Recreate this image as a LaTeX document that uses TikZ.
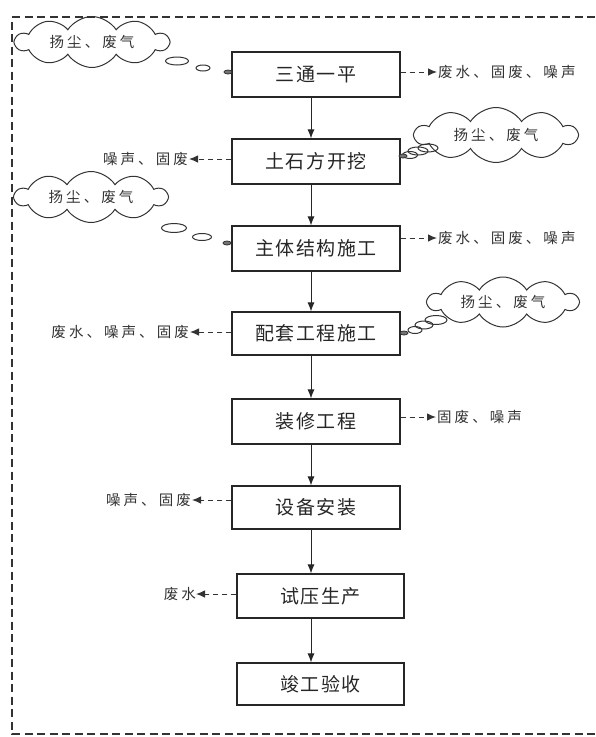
\documentclass[tikz,border=0pt]{standalone}
\usepackage{fontspec}
\newfontfamily\cjkbox[LetterSpace=8]{Noto Sans CJK SC}
\newfontfamily\cjklbl[LetterSpace=21]{Noto Sans CJK SC}
\usetikzlibrary{arrows.meta,shapes.symbols,shapes.geometric}
\tikzset{
  frame/.style={dash pattern=on 8pt off 4.5pt, line width=1.2pt, black!80},
  stage/.style={draw=black!85, line width=1.1pt, minimum width=168pt, minimum height=45pt,
    inner sep=0pt, text=black!85, font=\cjkbox\fontsize{19}{22}\selectfont},
  flow/.style={-{Latex[length=9pt,width=7pt]}, line width=1pt, black!85},
  waste/.style={dash pattern=on 5pt off 4pt, -{Latex[length=9pt,width=7.5pt]}, line width=1pt, black!80},
  outlbl/.style={inner sep=1pt, text=black!80, font=\cjklbl\fontsize{14.5}{16}\selectfont},
  dustcloud/.style={cloud, draw=black!80, cloud puffs=10, cloud puff arc=115, cloud ignores aspect,
    line width=1pt, inner sep=0pt, text=black!80, font=\cjklbl\fontsize{14.5}{16}\selectfont},
  bubble/.style={ellipse, draw=black!80, line width=1pt, inner sep=0pt},
  blob/.style={ellipse, draw=black!80, fill=black!55, line width=0.8pt, inner sep=0pt,
    minimum width=8pt, minimum height=4pt}
}
\begin{document}
\begin{tikzpicture}[x=1pt,y=-1pt]
\useasboundingbox (0,0) rectangle (595,737);
% frame
\draw[frame] (595,17) -- (12,17) -- (12,734) -- (595,734);

% stages
\node[stage] (s1) at (316,74.5) {三通一平};
\node[stage] (s2) at (316,161.5) {土石方开挖};
\node[stage] (s3) at (316,248.5) {主体结构施工};
\node[stage, minimum height=43pt] (s4) at (316,333.5) {配套工程施工};
\node[stage] (s5) at (316,421.5) {装修工程};
\node[stage, minimum height=43pt] (s6) at (316,507.5) {设备安装};
\node[stage, minimum width=167pt, minimum height=44pt] (s7) at (320.5,596) {试压生产};
\node[stage, minimum width=167pt, minimum height=42pt] (s8) at (320.5,684) {竣工验收};

% main flow
\coordinate (spine) at (311,0);
\foreach \a/\b in {s1/s2,s2/s3,s3/s4,s4/s5,s5/s6,s6/s7,s7/s8}
  \draw[flow] (\a.south -| spine) -- (\b.north -| spine);

% waste water, solid waste, noise
\node[outlbl, anchor=west] (r1) at (437,72) {废水、固废、噪声};
\draw[waste] (r1.west -| s1.east) -- (r1.west);
\node[outlbl, anchor=east] (l2) at (189,159) {噪声、固废};
\draw[waste] (l2.east -| s2.west) -- (l2.east);
\node[outlbl, anchor=west] (r3) at (437,238) {废水、固废、噪声};
\draw[waste] (r3.west -| s3.east) -- (r3.west);
\node[outlbl, anchor=east] (l4) at (190,332) {废水、噪声、固废};
\draw[waste] (l4.east -| s4.west) -- (l4.east);
\node[outlbl, anchor=west] (r5) at (436,417) {固废、噪声};
\draw[waste] (r5.west -| s5.east) -- (r5.west);
\node[outlbl, anchor=east] (l6) at (192,500) {噪声、固废};
\draw[waste] (l6.east -| s6.west) -- (l6.east);
\node[outlbl, anchor=east, inner sep=0pt] (l7) at (196,594) {废水};
\draw[waste] (l7.east -| s7.west) -- (l7.east);

% dust and exhaust gas
\node[dustcloud, minimum width=153pt, minimum height=51pt] (c1) at (92,42) {扬尘、废气};
\node[bubble, minimum width=23pt, minimum height=8pt] (c1a) at (177,61) {};
\node[bubble, minimum width=14pt, minimum height=6pt] (c1b) at (203,68) {};
\node[blob] (c1c) at (228,72) {};

\node[dustcloud, minimum width=162pt, minimum height=55pt] (c2) at (496,135) {扬尘、废气};
\node[bubble, minimum width=20pt, minimum height=8pt] (c2a) at (428,148) {};
\node[bubble, minimum width=20pt, minimum height=8pt] (c2b) at (418,151) {};
\node[bubble, minimum width=15pt, minimum height=7pt] (c2c) at (410,155) {};
\node[blob] (c2d) at (403,156) {};

\node[dustcloud, minimum width=152pt, minimum height=51pt] (c3) at (91,197) {扬尘、废气};
\node[bubble, minimum width=25pt, minimum height=9pt] (c3a) at (174,228) {};
\node[bubble, minimum width=19pt, minimum height=7pt] (c3b) at (202,237) {};
\node[blob] (c3c) at (227,243) {};

\node[dustcloud, minimum width=150pt, minimum height=50pt] (c4) at (503,302) {扬尘、废气};
\node[bubble, minimum width=22pt, minimum height=9pt] (c4a) at (436,320) {};
\node[bubble, minimum width=18pt, minimum height=8pt] (c4b) at (424,325) {};
\node[bubble, minimum width=14pt, minimum height=7pt] (c4c) at (415,330) {};
\node[blob] (c4d) at (404,333) {};
\end{tikzpicture}
\end{document}
